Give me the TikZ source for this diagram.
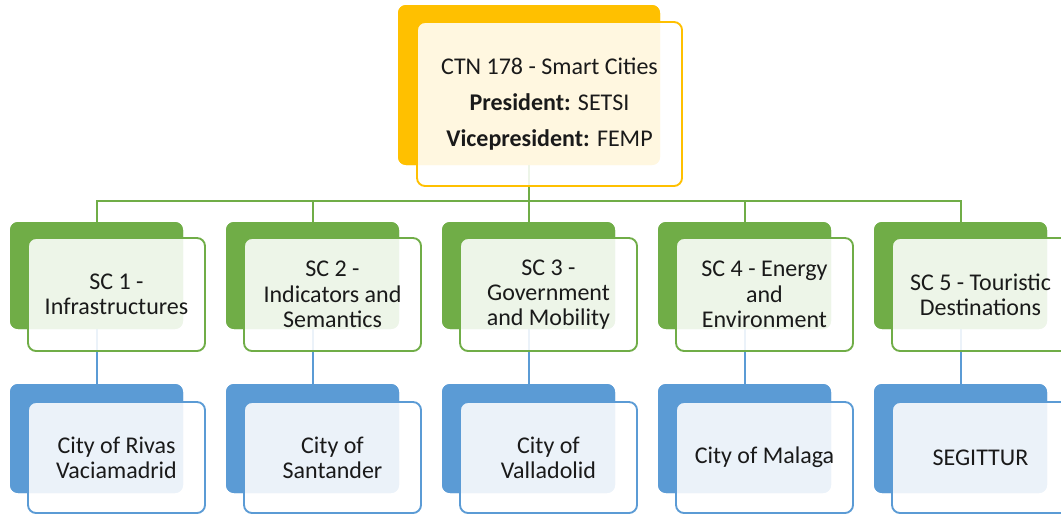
\documentclass[tikz,border=0pt]{standalone}
\usepackage{fontspec}
\setmainfont{Carlito}
\definecolor{orgC}{HTML}{FFC000}
\definecolor{grnC}{HTML}{70AD47}
\definecolor{bluC}{HTML}{5B9BD5}
\definecolor{txtC}{HTML}{1A1A1A}
\newcommand{\pxu}{0.75pt}
\tikzset{
  backbox/.style={rounded corners=6pt, inner sep=0pt, fill=#1},
  frontbox/.style={draw=#1, line width=1.4pt, rounded corners=6pt, fill=white, fill opacity=0.88, text opacity=1, inner sep=0pt, align=center, text=txtC},
  conn/.style={line width=1.5pt, draw=#1},
  subtxt/.style={font=\fontsize{18}{19}\selectfont},
}
\begin{document}
\begin{tikzpicture}[x=0.75pt,y=-0.75pt]
\useasboundingbox (0,0) rectangle (1061,514);
\clip (0,0) rectangle (1061,514);
% top
\node[backbox=orgC, minimum width={262*\pxu}, minimum height={160*\pxu}] (topback) at (529,85) {};
\coordinate (bus) at (529,201);
\foreach \i in {0,...,4}{
  \pgfmathsetmacro{\cx}{96.5+216*\i}
  \node[backbox=grnC, minimum width={173*\pxu}, minimum height={107*\pxu}] (gb\i) at (\cx,275.5) {};
  \node[backbox=bluC, minimum width={173*\pxu}, minimum height={109*\pxu}] (bb\i) at (\cx,438.5) {};
}
% connectors
\foreach \i in {0,...,4}{
  \draw[conn=grnC] (topback.south) -- (topback.south |- bus) -| (gb\i.north);
  \draw[conn=bluC] (gb\i.south) -- (bb\i.north);
}
% redraw backs over connectors
\node[backbox=orgC, minimum width={262*\pxu}, minimum height={160*\pxu}] at (529,85) {};
\foreach \i in {0,...,4}{
  \pgfmathsetmacro{\cx}{96.5+216*\i}
  \node[backbox=grnC, minimum width={173*\pxu}, minimum height={107*\pxu}] at (\cx,275.5) {};
  \node[backbox=bluC, minimum width={173*\pxu}, minimum height={109*\pxu}] at (\cx,438.5) {};
}
% fronts
\node[frontbox=orgC, minimum width={265*\pxu}, minimum height={164*\pxu}, font=\fontsize{18}{27}\selectfont] (topfront) at (549.5,104) {CTN 178 - Smart Cities\\\textbf{President:} SETSI\\\textbf{Vicepresident:} FEMP};
\node[frontbox=grnC, subtxt, minimum width={177*\pxu}, minimum height={113*\pxu}] (gf0) at (116.5,294.5) {SC 1 -\\Infrastructures};
\node[frontbox=grnC, subtxt, minimum width={177*\pxu}, minimum height={113*\pxu}] (gf1) at (332.5,294.5) {SC 2 -\\Indicators and\\Semantics};
\node[frontbox=grnC, subtxt, minimum width={177*\pxu}, minimum height={113*\pxu}] (gf2) at (548.5,294.5) {SC 3 -\\Government\\and Mobility};
\node[frontbox=grnC, subtxt, minimum width={177*\pxu}, minimum height={113*\pxu}] (gf3) at (764.5,294.5) {SC 4 - Energy\\and\\Environment};
\node[frontbox=grnC, subtxt, minimum width={177*\pxu}, minimum height={113*\pxu}] (gf4) at (980.5,294.5) {SC 5 - Touristic\\Destinations};
\node[frontbox=bluC, subtxt, minimum width={177*\pxu}, minimum height={111*\pxu}] (bf0) at (116.5,457.5) {City of Rivas\\Vaciamadrid};
\node[frontbox=bluC, subtxt, minimum width={177*\pxu}, minimum height={111*\pxu}] (bf1) at (332.5,457.5) {City of\\Santander};
\node[frontbox=bluC, subtxt, minimum width={177*\pxu}, minimum height={111*\pxu}] (bf2) at (548.5,457.5) {City of\\Valladolid};
\node[frontbox=bluC, subtxt, minimum width={177*\pxu}, minimum height={111*\pxu}] (bf3) at (764.5,457.5) {City of Malaga};
\node[frontbox=bluC, subtxt, minimum width={177*\pxu}, minimum height={111*\pxu}] (bf4) at (980.5,457.5) {SEGITTUR};
\end{tikzpicture}
\end{document}
